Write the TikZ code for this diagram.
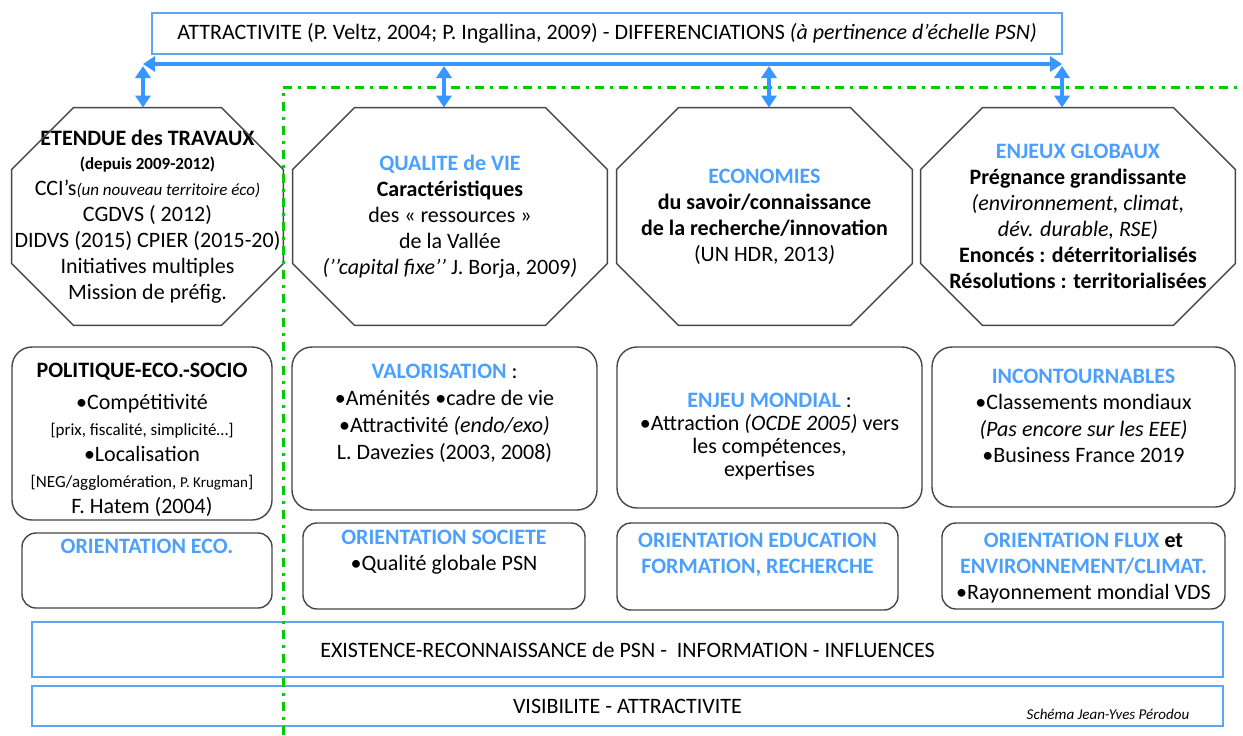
\documentclass[tikz,border=0pt]{standalone}
\usepackage{fontspec}
\setmainfont{Carlito}
\usetikzlibrary{positioning,arrows.meta}

\definecolor{framegray}{RGB}{70,70,70}
\definecolor{lineblue}{RGB}{95,165,245}
\definecolor{arrowblue}{RGB}{55,150,255}
\definecolor{titleblue}{RGB}{75,160,255}
\definecolor{dashgreen}{RGB}{0,205,0}

\newcommand{\bluehead}[1]{\textcolor{titleblue}{\textbf{#1}}}
\newcommand{\smalltxt}{\fontsize{8.5}{10}\selectfont}

\tikzset{
  octo/.style={rectangle, minimum height=108.5pt, align=center, inner sep=0pt},
  octline/.style={draw=framegray, line width=0.7pt},
  rbox/.style={rectangle, rounded corners=10pt, draw=framegray, line width=0.7pt},
  obox/.style={rbox, rounded corners=7pt},
  band/.style={rectangle, draw=lineblue, line width=0.8pt, align=center},
  txt/.style={align=center, inner sep=0pt},
  dbl/.style={{Triangle[length=6pt,width=7.5pt]}-{Triangle[length=6pt,width=7.5pt]},
    line width=2pt, draw=arrowblue},
  border/.style={draw=dashgreen, line width=1.5pt,
    dash pattern=on 4.5pt off 3pt on 1.5pt off 3pt},
}

\begin{document}
\begin{tikzpicture}[x=0.5pt, y=-0.5pt, font=\fontsize{11}{13}\selectfont]
  \useasboundingbox (0,0) rectangle (1243,735);
  \path[fill=white] (0,0) rectangle (1243,735);

  % top band
  \node[band, minimum width=455pt, minimum height=20.5pt] (attr) at (607,33.5)
    {ATTRACTIVITE (P. Veltz, 2004; P. Ingallina, 2009) - DIFFERENCIATIONS \textit{(à pertinence d’échelle PSN)}};

  % octagons
  \node[octo, minimum width=135.5pt] (etendue) at (147.5,216.5)
    {\textbf{ETENDUE des TRAVAUX}\\[-1pt]
     {\smalltxt\textbf{(depuis 2009-2012)}}\\
     CCI’s{\smalltxt\itshape(un nouveau territoire éco)}\\
     CGDVS ( 2012)\\
     DIDVS (2015) CPIER (2015-20)\\
     Initiatives multiples\\
     Mission de préfig.};
  \node[octo, minimum width=157pt] (qualite) at (450,216.5)
    {\bluehead{QUALITE de VIE}\\
     \textbf{Caractéristiques}\\
     des « ressources »\\
     de la Vallée\\
     \textit{(’’capital fixe’’} J. Borja, 2009\textit{)}};
  \node[octo, minimum width=147.5pt] (economies) at (764.5,216.5)
    {\bluehead{ECONOMIES}\\
     \textbf{du savoir/connaissance}\\
     \textbf{de la recherche/innovation}\\
     (UN HDR, 2013\textit{)}};
  \node[octo, minimum width=157pt] (enjeux) at (1078,216.5)
    {\bluehead{ENJEUX GLOBAUX}\\
     \textbf{Prégnance grandissante}\\
     \textit{(environnement, climat,}\\
     \textit{dév. durable, RSE)}\\
     \textbf{Enoncés : déterritorialisés}\\
     \textbf{Résolutions : territorialisées}};
  \foreach \n in {etendue, qualite, economies, enjeux}
    \draw[octline] ([xshift=31pt]\n.north west) -- ([xshift=-31pt]\n.north east)
      -- ([yshift=-31pt]\n.north east) -- ([yshift=31pt]\n.south east)
      -- ([xshift=-31pt]\n.south east) -- ([xshift=31pt]\n.south west)
      -- ([yshift=31pt]\n.south west) -- ([yshift=-31pt]\n.north west) -- cycle;

  % second row
  \node[rbox, minimum width=130pt, minimum height=86.5pt] (politique) at (142,433.5) {};
  \node[txt, below=8pt of politique.north] (politique-t)
    {\textbf{POLITIQUE-ECO.-SOCIO}\\[3pt]
     •Compétitivité\\
     {\smalltxt [prix, fiscalité, simplicité…]}\\
     •Localisation\\
     {\smalltxt [NEG/agglomération, {\fontsize{7.5}{9}\selectfont P. Krugman}]}\\
     F. Hatem (2004)};
  \node[rbox, minimum width=152.5pt, minimum height=81.5pt] (valorisation) at (444.5,428.5) {};
  \node[txt, below=8.5pt of valorisation.north, font=\fontsize{11}{13.5}\selectfont] (valorisation-t)
    {\bluehead{VALORISATION} :\\
     •Aménités •cadre de vie\\
     •Attractivité \textit{(endo/exo)}\\
     L. Davezies (2003, 2008)};
  \node[rbox, minimum width=152.5pt, minimum height=80.5pt] (mondial) at (769.5,427.5) {};
  \node[txt, below=23pt of mondial.north, font=\fontsize{11}{11.5}\selectfont] (mondial-t)
    {\bluehead{ENJEU MONDIAL} :\\
     •Attraction \textit{(OCDE 2005)} vers\\
     les compétences,\\
     expertises};
  \node[rbox, minimum width=151.5pt, minimum height=80pt] (incontournables) at (1083.5,427) {};
  \node[txt, below=11pt of incontournables.north, font=\fontsize{11}{13.3}\selectfont] (incontournables-t)
    {\bluehead{INCONTOURNABLES}\\
     •Classements mondiaux\\
     \textit{(Pas encore sur les EEE)}\\
     •Business France 2019};

  % orientations
  \node[obox, minimum width=125pt, minimum height=37.5pt] (or-eco) at (147,570.5) {};
  \node[txt, below=3pt of or-eco.north] (or-eco-t) {\bluehead{ORIENTATION ECO.}};
  \node[obox, minimum width=141pt, minimum height=43pt] (or-societe) at (444,566) {};
  \node[txt, below=3.5pt of or-societe.north] (or-societe-t)
    {\bluehead{ORIENTATION SOCIETE}\\ •Qualité globale PSN};
  \node[obox, minimum width=140.5pt, minimum height=43.5pt] (or-education) at (757.5,566.5) {};
  \node[txt, below=5pt of or-education.north] (or-education-t)
    {\bluehead{ORIENTATION EDUCATION}\\ \bluehead{FORMATION, RECHERCHE}};
  \node[obox, minimum width=141.5pt, minimum height=43pt] (or-flux) at (1083.5,566) {};
  \node[txt, below=5pt of or-flux.north] (or-flux-t)
    {\bluehead{ORIENTATION FLUX} \textbf{et}\\
     \bluehead{ENVIRONNEMENT/CLIMAT.}\\
     •Rayonnement mondial VDS};

  % bottom bands
  \node[band, minimum width=595.5pt, minimum height=27.5pt] (existence) at (627.5,649.5)
    {EXISTENCE-RECONNAISSANCE de PSN -\ \ INFORMATION - INFLUENCES};
  \node[band, minimum width=595.5pt, minimum height=20pt] (visibilite) at (627.5,706)
    {VISIBILITE - ATTRACTIVITE};
  \node[txt, font=\fontsize{7.5}{8}\selectfont\itshape] (signature) at (1108,714)
    {Schéma Jean-Yves Pérodou};

  % perimeter
  \draw[border] (283,735) -- (283,87) -- (1243,87);

  % arrows
  \coordinate (h-left) at (143,64);
  \coordinate (h-right) at (1062,64);
  \draw[dbl] (h-left) -- (h-right);
  \foreach \x/\n in {143/etendue, 444/qualite, 769/economies, 1062/enjeux}
    \draw[dbl] (\x,66) -- (\x,66 |- \n.north);
\end{tikzpicture}
\end{document}
